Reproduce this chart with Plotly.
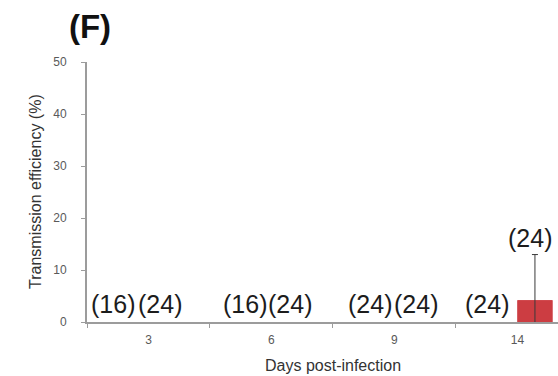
import plotly.graph_objects as go

# ---- data ----
days = ["3", "6", "9", "14"]
eff_a = [0, 0, 0, 0]              # first group of animals (all 0 %)
n_a = [16, 16, 24, 24]
eff_b = [0, 0, 0, 4.17]           # second group of animals
err_b = [None, None, None, 8.8]
n_b = [24, 24, 24, 24]

# label horizontal offsets (pixels) relative to category centre, as placed in the figure
off_a = [-35, -26, -24, -30]
off_b = [12, 19, 22, 13]

FONT = "Liberation Sans, Arial, sans-serif"
AXIS_GRAY = "#9c9c9c"
TXT_GRAY = "#595959"
RED = "#cc3d42"

fig = go.Figure()
fig.add_trace(go.Bar(x=days, y=eff_a, offsetgroup="a",
                     marker=dict(color="#4f81bd", line=dict(width=0)), showlegend=False))
fig.add_trace(go.Bar(x=days, y=eff_b, offsetgroup="b",
                     marker=dict(color=RED, line=dict(width=0)), showlegend=False))
# error bars only where an error value exists (same slot as series b)
idx = [i for i, e in enumerate(err_b) if e is not None]
fig.add_trace(go.Bar(x=[days[i] for i in idx], y=[eff_b[i] for i in idx], offsetgroup="b",
                     marker=dict(color=RED, line=dict(width=0)),
                     error_y=dict(type="data", array=[err_b[i] for i in idx], symmetric=True,
                                  color="#3a3a3a", thickness=1, width=3),
                     showlegend=False))

annotations = []
for i, d in enumerate(days):
    annotations.append(dict(x=i, y=eff_a[i], xref="x", yref="y", text=f"({n_a[i]})",
                            showarrow=False, xanchor="center", yanchor="bottom",
                            xshift=off_a[i], yshift=2,
                            font=dict(family=FONT, size=25, color="#1c1c1c")))
    top_b = eff_b[i] + (err_b[i] or 0)
    annotations.append(dict(x=i, y=top_b, xref="x", yref="y", text=f"({n_b[i]})",
                            showarrow=False, xanchor="center", yanchor="bottom",
                            xshift=off_b[i], yshift=2 if eff_b[i] == 0 else 1,
                            font=dict(family=FONT, size=25, color="#1c1c1c")))

# axis titles
annotations.append(dict(x=1.5, y=0, xref="x", yref="paper", text="Days post-infection",
                        showarrow=False, xanchor="center", yanchor="middle", yshift=-43,
                        font=dict(family=FONT, size=16, color="#333333")))
annotations.append(dict(x=0, y=0.5, xref="paper", yref="paper",
                        text="Transmission efficiency (%)", textangle=-90,
                        showarrow=False, xanchor="center", yanchor="middle", xshift=-52,
                        font=dict(family=FONT, size=16, color="#333333")))

fig.update_layout(
    width=558, height=376,
    margin=dict(l=87, r=0, t=62, b=54),
    paper_bgcolor="white", plot_bgcolor="white",
    barmode="group", bargap=0.43, bargroupgap=0,
    title=dict(text="<b>(F)</b>", x=90 / 558, xanchor="center", y=1 - 26 / 376,
               yanchor="middle", font=dict(family=FONT, size=33, color="#111111")),
    annotations=annotations,
    xaxis=dict(type="category", range=[-0.5, 3.33], tickson="boundaries",
               ticks="outside", ticklen=4, tickcolor=AXIS_GRAY, tickwidth=1,
               showline=True, linecolor=AXIS_GRAY, linewidth=2, showgrid=False,
               zeroline=False, tickfont=dict(family=FONT, size=12, color=TXT_GRAY),
               ticklabelstandoff=6),
    yaxis=dict(range=[0, 50], dtick=10, ticks="outside", ticklen=4, tickcolor=AXIS_GRAY,
               tickwidth=1, showline=True, linecolor=AXIS_GRAY, linewidth=2,
               showgrid=False, zeroline=False,
               tickfont=dict(family=FONT, size=12, color=TXT_GRAY),
               ticklabelstandoff=12),
)

fig.write_html("out.html")
